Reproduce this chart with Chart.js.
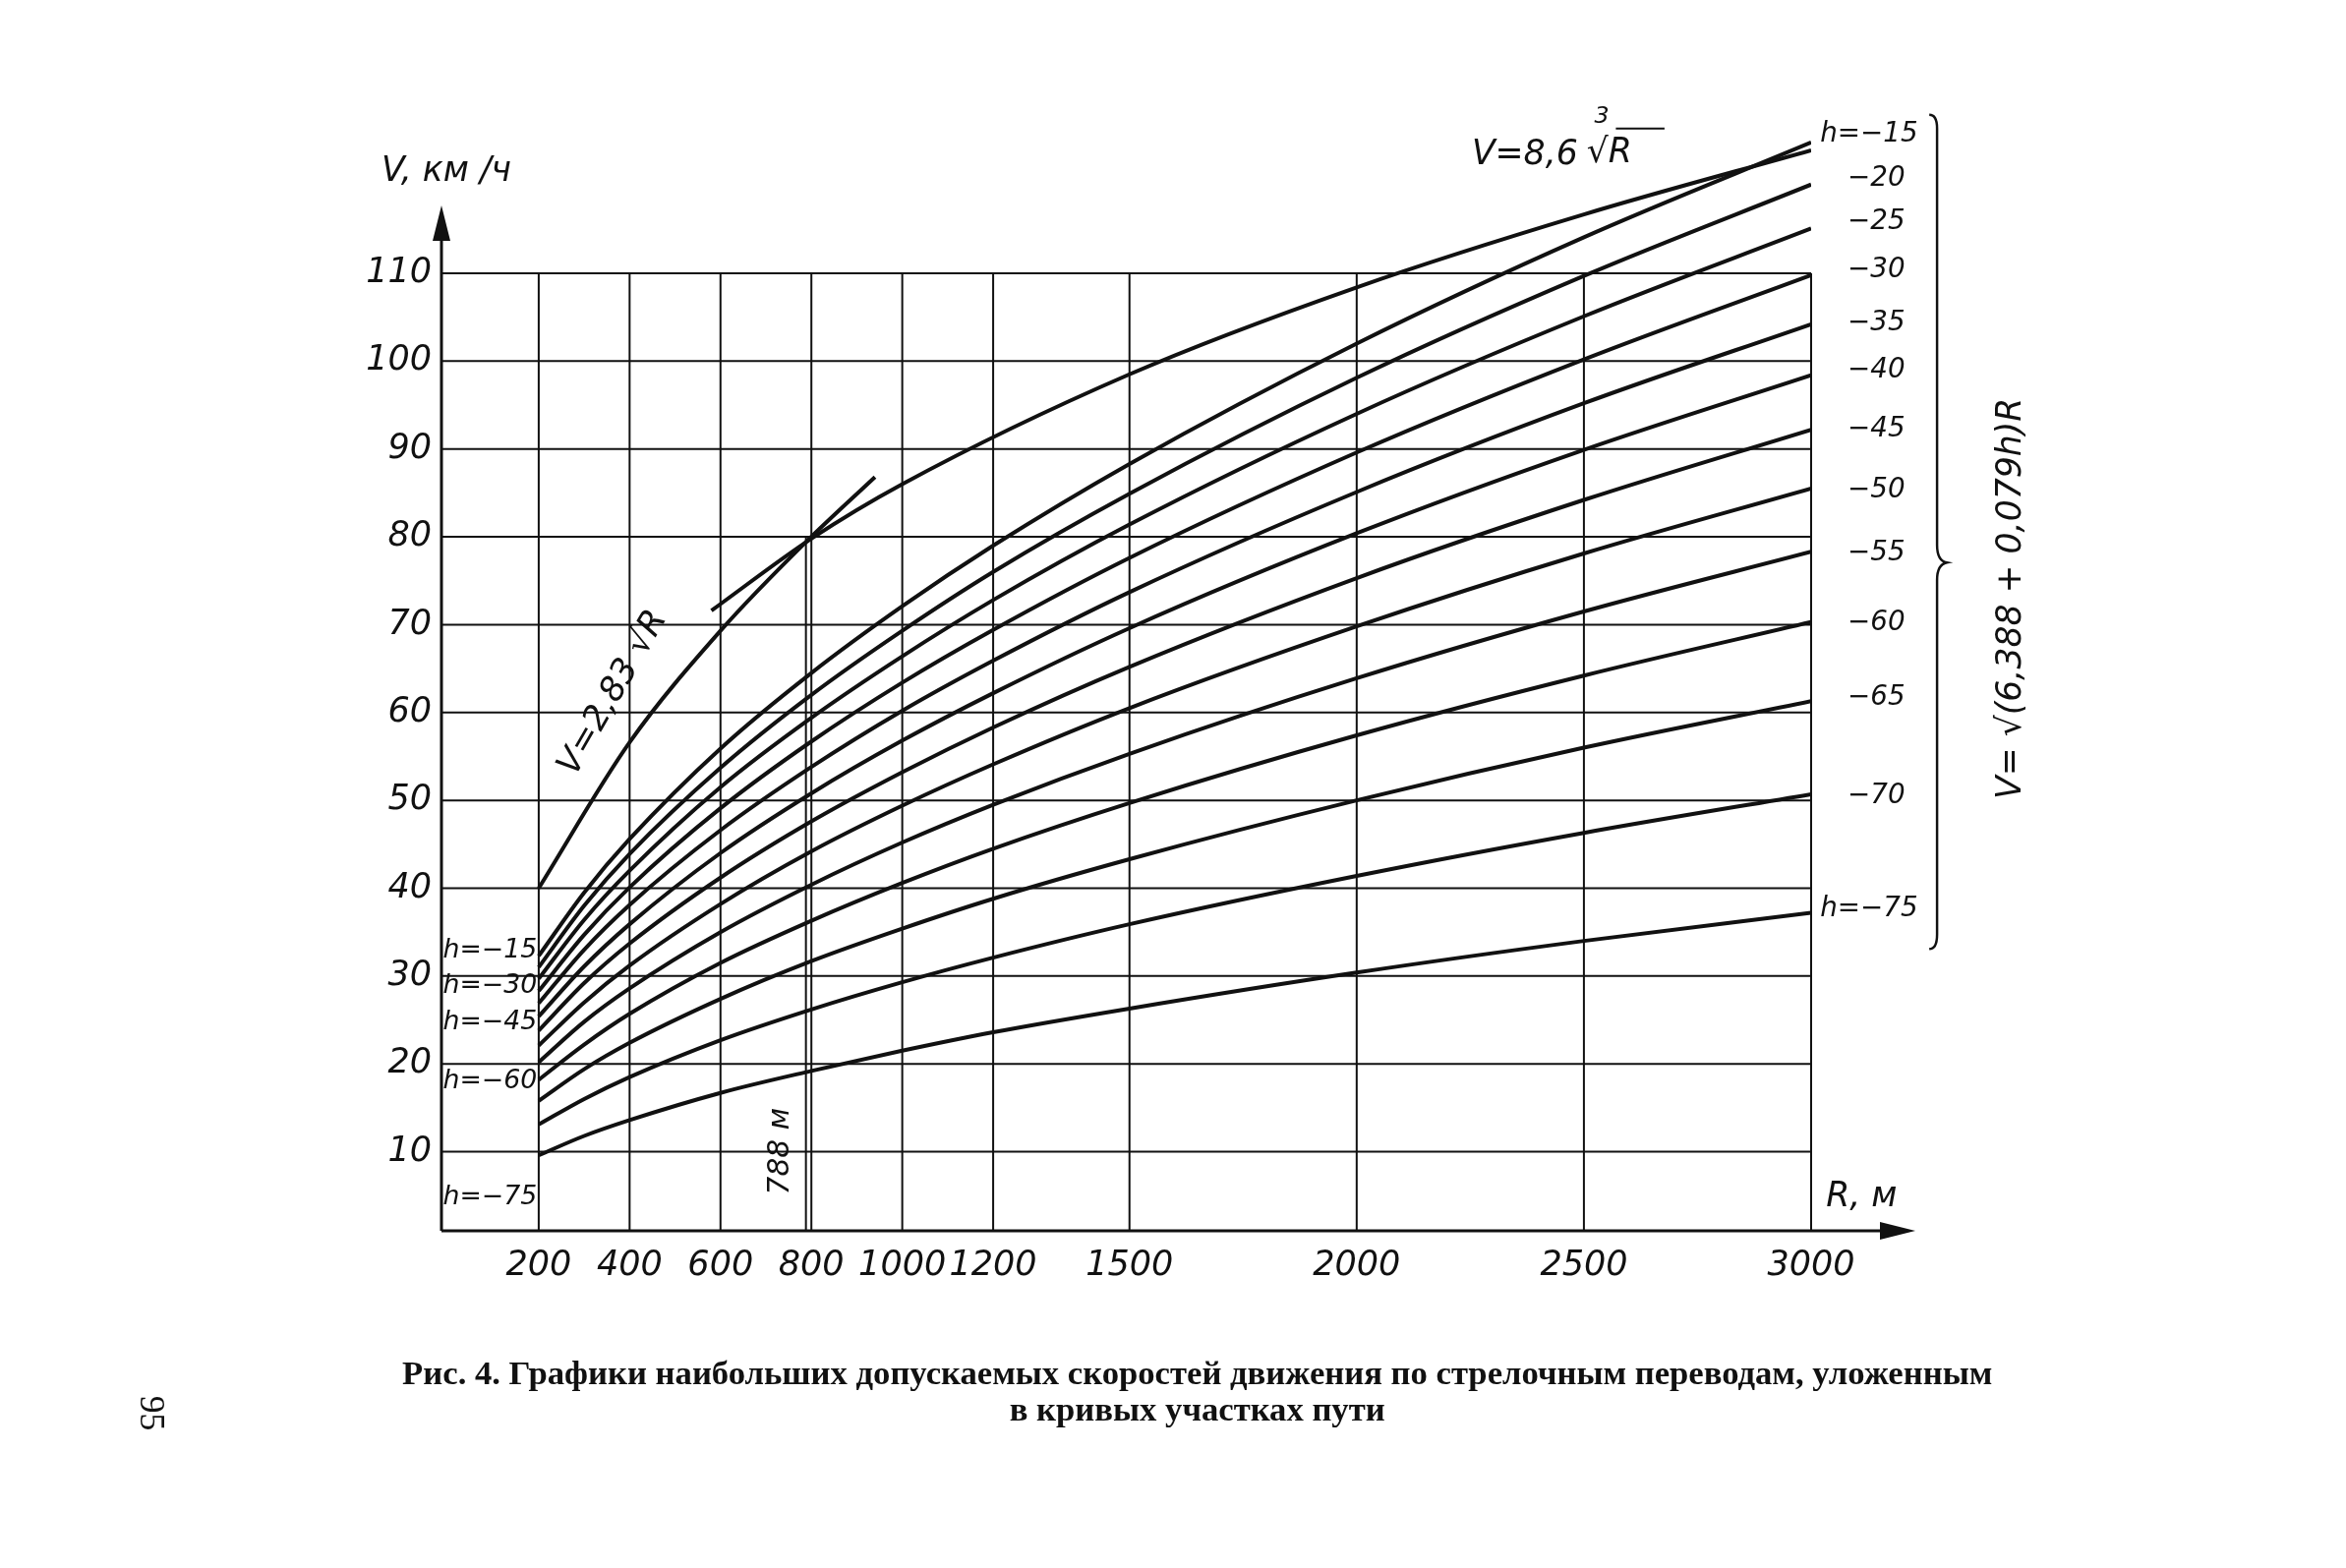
<!DOCTYPE html>
<html><head><meta charset="utf-8">
<script src="https://cdn.jsdelivr.net/npm/chart.js@4.4.1/dist/chart.umd.min.js"></script>
<style>html,body{margin:0;padding:0;background:#fff}canvas{display:block}</style>
</head><body>
<canvas id="c" width="2386" height="1595"></canvas>
<script>
const radii = [200,300,400,600,800,1000,1200,1500,2000,2500,3000];
const hLabels = ["-15","-20","-25","-30","-35","-40","-45","-50","-55","-60","-65","-70","-75"];
const h15 = [32.3,39.5,45.6,55.9,64.5,72.1,79.0,88.3,102.0,114.1,124.9];
const h20 = [31.0,38.0,43.9,53.7,62.0,69.3,76.0,84.9,98.1,109.7,120.1];
const h25 = [29.7,36.4,42.0,51.5,59.4,66.4,72.8,81.4,94.0,105.1,115.1];
const h30 = [28.3,34.7,40.1,49.1,56.7,63.4,69.4,77.6,89.6,100.2,109.8];
const h35 = [26.9,33.0,38.1,46.6,53.8,60.2,65.9,73.7,85.1,95.2,104.2];
const h40 = [25.4,31.1,35.9,44.0,50.8,56.8,62.2,69.6,80.4,89.9,98.4];
const h45 = [23.8,29.2,33.7,41.2,47.6,53.2,58.3,65.2,75.3,84.2,92.2];
const h50 = [22.1,27.0,31.2,38.2,44.2,49.4,54.1,60.5,69.8,78.1,85.5];
const h55 = [20.2,24.8,28.6,35.0,40.4,45.2,49.5,55.3,63.9,71.5,78.3];
const h60 = [18.2,22.2,25.7,31.5,36.3,40.6,44.5,49.7,57.4,64.2,70.3];
const h65 = [15.8,19.4,22.4,27.4,31.7,35.4,38.8,43.3,50.0,56.0,61.3];
const h70 = [13.1,16.0,18.5,22.7,26.2,29.3,32.1,35.9,41.4,46.3,50.7];
const h75 = [9.6,11.8,13.6,16.7,19.2,21.5,23.6,26.3,30.4,34.0,37.2];
const sqrtR = [200,400,600,788,940];
const sqrtV = [40.0,56.6,69.3,79.4,86.8];
const cubeR = [580,800,1000,1500,2000,2500,3000];
const cubeV = [71.6,79.8,86.0,98.5,108.4,116.7,124.0];
const xTicks = [200,400,600,800,1000,1200,1500,2000,2500,3000];
const yTicks = [10,20,30,40,50,60,70,80,90,100,110];
const caption1 = "Рис. 4. Графики наибольших допускаемых скоростей движения по стрелочным переводам, уложенным";
const caption2 = "в кривых участках пути";

const series = [h15,h20,h25,h30,h35,h40,h45,h50,h55,h60,h65,h70,h75];
const ds = series.map((s,i)=>({label:"h="+hLabels[i],data:radii.map((r,j)=>({x:r,y:s[j]}))}));
ds.push({label:"2.83",data:sqrtR.map((r,j)=>({x:r,y:sqrtV[j]}))});
ds.push({label:"8.6",data:cubeR.map((r,j)=>({x:r,y:cubeV[j]}))});
ds.forEach(d=>{d.borderColor="#111";d.borderWidth=4;d.pointRadius=0;d.cubicInterpolationMode="monotone";d.fill=false;});

const F = "DejaVu Sans";
const S = 0.99;
const deco = {
  id:"deco",
  beforeDatasetsDraw(ch){
    const c=ch.ctx,x=ch.scales.x,y=ch.scales.y;
    c.save();c.strokeStyle="#111";c.lineWidth=2;
    xTicks.forEach(t=>{const p=x.getPixelForValue(t);c.beginPath();c.moveTo(p,y.getPixelForValue(1));c.lineTo(p,y.getPixelForValue(110));c.stroke();});
    [788].forEach(t=>{const p=x.getPixelForValue(t);c.beginPath();c.moveTo(p,y.getPixelForValue(1));c.lineTo(p,y.getPixelForValue(80));c.stroke();});
    yTicks.forEach(t=>{const p=y.getPixelForValue(t);c.beginPath();c.moveTo(x.getPixelForValue(-14),p);c.lineTo(x.getPixelForValue(3000),p);c.stroke();});
    c.lineWidth=3;
    const x0=x.getPixelForValue(-14),y0=y.getPixelForValue(1);
    c.beginPath();c.moveTo(x0,y0);c.lineTo(x0,222);c.moveTo(x0,y0);c.lineTo(1930,y0);c.stroke();
    c.fillStyle="#111";
    c.beginPath();c.moveTo(x0,209);c.lineTo(x0-9,245);c.lineTo(x0+9,245);c.closePath();c.fill();
    c.beginPath();c.moveTo(1948,y0);c.lineTo(1912,y0-9);c.lineTo(1912,y0+9);c.closePath();c.fill();
    c.restore();
  },
  afterDraw(ch){
    const c=ch.ctx,x=ch.scales.x,y=ch.scales.y;
    c.save();c.fillStyle="#111";c.strokeStyle="#111";
    c.font="italic 35px '"+F+"'";c.textAlign="right";c.textBaseline="middle";
    yTicks.forEach(t=>c.fillText(String(t),439,y.getPixelForValue(t)));
    c.textAlign="center";c.textBaseline="top";
    xTicks.forEach(t=>c.fillText(String(t),x.getPixelForValue(t),1270));
    c.scale(S,S);
    c.lineWidth=2.5;c.beginPath();
    const bx=1990;c.moveTo(bx-8,118);c.quadraticCurveTo(bx,118,bx,132);c.lineTo(bx,560);c.quadraticCurveTo(bx,576,bx+10,578);
    c.quadraticCurveTo(bx,580,bx,596);c.lineTo(bx,960);c.quadraticCurveTo(bx,975,bx-8,975);c.stroke();
    c.textAlign="left";c.textBaseline="middle";
    c.font="italic 35px '"+F+"'";
    c.fillText("V, км /ч",392,177);
    c.fillText("R, м",1876,1230);
    c.font="italic 28px '"+F+"'";
    const rY=[138,184,228,278,332,381,441,504,568,640,717,818];
    for(let i=1;i<12;i++) c.fillText(hLabels[i].replace("-","−"),1898,rY[i]);
    c.fillText("h=−15",1870,138);
    c.fillText("h=−75",1870,934);
    c.font="italic 27px '"+F+"'";
    [["h=−15",977],["h=−30",1013],["h=−45",1051],["h=−60",1111],["h=−75",1230]].forEach(a=>c.fillText(a[0],455,a[1]));
    c.font="italic 35px '"+F+"'";
    c.fillText("V=8,6",1512,160);c.font="italic 24px '"+F+"'";c.fillText("3",1638,120);
    c.font="italic 35px '"+F+"'";c.fillText("√R",1630,158);
    c.beginPath();c.lineWidth=2;c.moveTo(1660,132);c.lineTo(1710,132);c.stroke();
    c.save();c.translate(630,712);c.rotate(-Math.PI/3);c.textAlign="center";c.fillText("V=2,83 √R",0,0);c.restore();
    c.save();c.translate(802,1183);c.rotate(-Math.PI/2);c.textAlign="center";c.font="italic 30px '"+F+"'";c.fillText("788 м",0,0);c.restore();
    c.save();c.translate(2067,615);c.rotate(-Math.PI/2);c.textAlign="center";c.fillText("V= √(6,388 + 0,079h)R",0,0);c.restore();
    c.save();c.translate(154,1452);c.rotate(Math.PI/2);c.textAlign="center";c.font="36px 'Liberation Serif'";c.fillText("95",0,0);c.restore();
    c.font="bold 35px 'Liberation Serif'";c.textAlign="center";
    c.fillText(caption1,1230,1413);c.fillText(caption2,1230,1451);
    c.restore();
  }
};

new Chart(document.getElementById("c"),{
  type:"line",
  data:{datasets:ds},
  options:{responsive:false,animation:false,
    layout:{padding:{left:449,right:544,top:135,bottom:343}},
    plugins:{legend:{display:false},tooltip:{enabled:false}},
    scales:{x:{type:"linear",min:-14,max:3000,display:false},y:{min:1,max:126,display:false}}
  },
  plugins:[deco]
});
</script>
</body></html>
